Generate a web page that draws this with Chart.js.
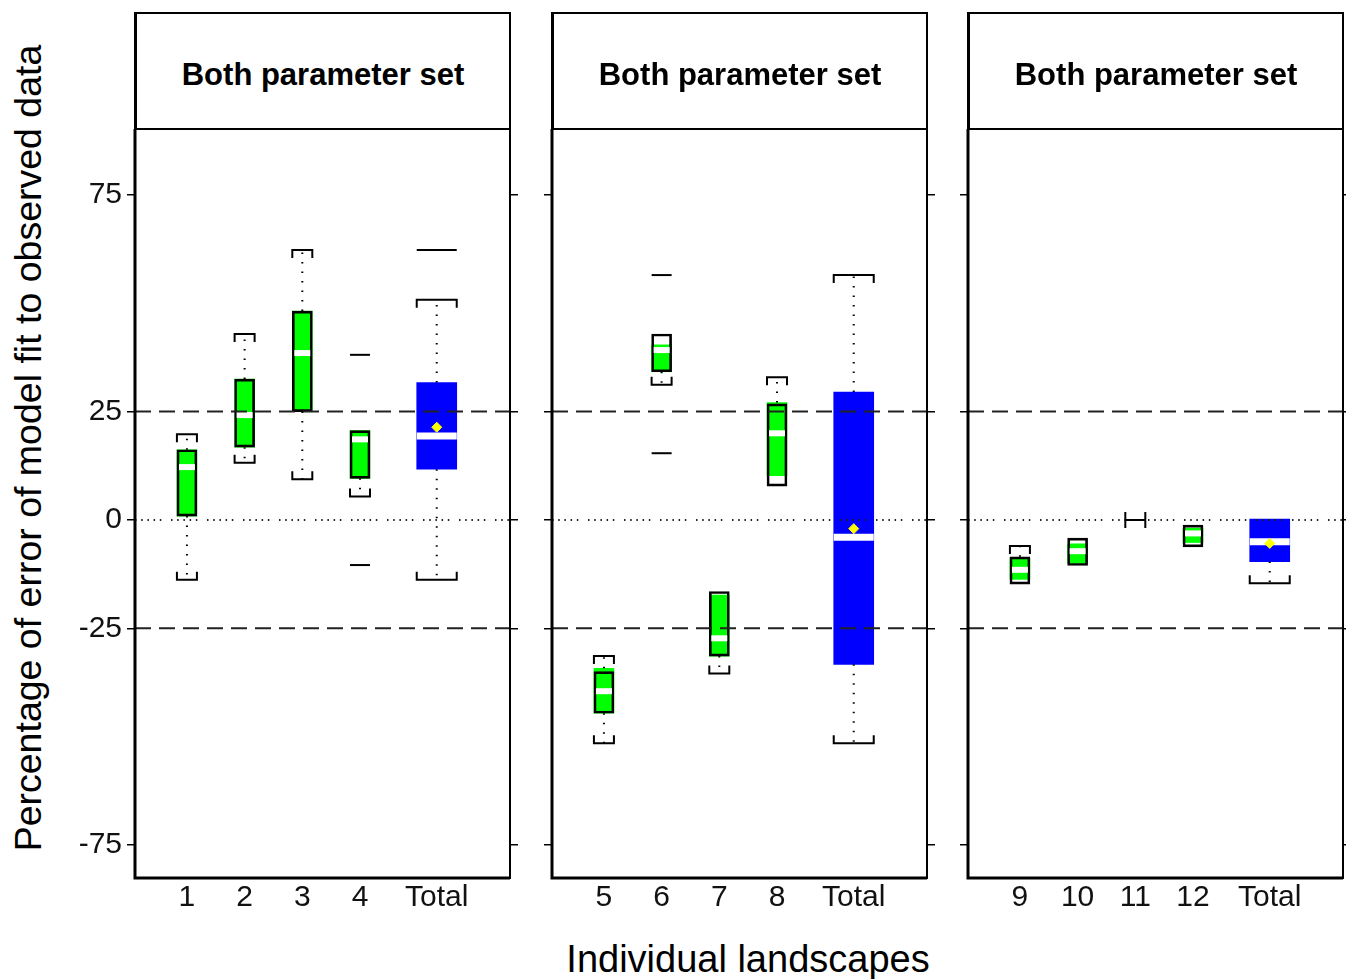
<!DOCTYPE html>
<html>
<head>
<meta charset="utf-8">
<script src="https://cdn.jsdelivr.net/npm/chart.js@4"></script>
<style>
  body { margin: 0; background: #fff; }
  #wrap { position: relative; width: 1346px; height: 979px; overflow: hidden; background: #fff; }
  #wrap canvas { position: absolute; left: 0; top: 0; }
  .strip {
    position: absolute; top: 12px; height: 118px; box-sizing: border-box; padding-top: 6px;
    border: 2px solid #000; border-left-width: 3px; border-bottom: none;
    display: flex; align-items: center; justify-content: center;
    font: bold 31px "Liberation Sans", Arial, sans-serif; color: #000;
  }
  #ytitle {
    position: absolute; left: 28px; top: 448px; white-space: nowrap;
    transform: translate(-50%, -50%) rotate(-90deg);
    font: 37.5px "Liberation Sans", Arial, sans-serif; color: #000;
  }
  #xtitle {
    position: absolute; left: 748px; top: 959px; white-space: nowrap;
    transform: translate(-50%, -50%);
    font: 38px "Liberation Sans", Arial, sans-serif; color: #000;
  }
</style>
</head>
<body>
<div id="wrap">
  <div id="ytitle">Percentage of error of model fit to observed data</div>
  <div id="xtitle">Individual landscapes</div>
</div>
<script>
// tick labels and positions
const stripTitle = "Both parameter set";
const panelLabels = [
    ["1", "2", "3", "4", "Total"],
    ["5", "6", "7", "8", "Total"],
    ["9", "10", "11", "12", "Total"]
];
const xPos = [1, 2, 3, 4, 5.33];
const yTicks = [-75, -25, 0, 25, 75];
const refDashed = [25, -25];
const refDotted = [0];

// coloured part of each box (green, blue for Total)
const fillLow  = [[0.9, 16.8, 25.0, 9.6, 11.7], [-44.6, 34.2, -31.4, 10.2, -33.3], [-13.7, -10.0, 0, -5.2, -9.6]];
const fillHigh = [[16.2, 32.5, 48.2, 20.6, 31.7], [-34.2, 40.4, -17.3, 27.1, 29.5], [-8.8, -5.5, 0, -1.9, 0.2]];
// black outline of the boxes (none for Total)
const boxLow  = [[0.9, 16.8, 25.0, 9.6, null], [-44.6, 34.2, -31.4, 7.8, null], [-14.8, -10.5, 0, -6.2, null]];
const boxHigh = [[16.2, 32.5, 48.2, 20.6, null], [-35.0, 42.9, -16.5, 26.8, null], [-8.5, -4.2, 0, -1.2, null]];
const medians = [[12.2, 24.2, 38.5, 18.6, 19.4], [-39.5, 39.2, -27.3, 20.0, -4.0], [-11.5, -7.2, null, -3.1, -5.0]];
const means   = [[null, null, null, null, 21.4], [null, null, null, null, -2.0], [null, null, null, null, -5.4]];
const whiskerLow  = [[-13.8, 13.2, 9.4, 5.4, -13.8], [-51.5, 31.2, -35.4, null, -51.5], [null, null, null, null, -14.6]];
const whiskerHigh = [[19.8, 42.9, 62.3, null, 50.8], [-31.4, null, null, 32.9, 56.5], [-6.0, null, null, null, null]];
const outliers = [
    [[], [], [], [38.1, -10.4], [62.3]],
    [[], [56.5, 15.4], [], [], []],
    [[], [], [], [], []]
];

// layout (canvases are wider than the page, the page clips them)
const CANVAS_W = 1420;
const panelLeft = [135, 552, 968];
const panelWidth = 375;
const Y_MIN = -82.6, Y_MAX = 90.2;
const X_MIN = 0.1, X_MAX = 6.6;
const X_PX = panelWidth / (X_MAX - X_MIN);
const Y_PX = (878 - 129) / (Y_MAX - Y_MIN);
const GREEN_W = 20, BLUE_W = 40, CAP_TICK = 8 / Y_PX;

const tickFont = { family: "'Liberation Sans', Arial, sans-serif", size: 30 };

const framePlugin = {
    id: 'frame',
    afterDraw(chart) {
        const { ctx, chartArea: a } = chart;
        ctx.save();
        ctx.strokeStyle = '#000';
        ctx.lineWidth = 2;
        ctx.strokeRect(a.left, a.top, a.right - a.left, a.bottom - a.top);
        ctx.lineWidth = 3;
        ctx.beginPath();
        ctx.moveTo(a.left, a.top);
        ctx.lineTo(a.left, a.bottom);
        ctx.lineTo(a.right, a.bottom);
        ctx.stroke();
        ctx.restore();
    }
};

function isTotal(p, i) {
    return panelLabels[p][i] === "Total";
}

function halfWidth(p, i) {
    return (isTotal(p, i) ? BLUE_W : GREEN_W) / 2 / X_PX;
}

function buildDatasets(p) {
    const green = [], blue = [], outline = [], medG = [], medB = [], meanPts = [];
    const outG = [], outB = [], whisk = [], caps = [];
    const gap = { x: null, y: null };

    for (let i = 0; i < xPos.length; i++) {
        const x = xPos[i];
        const h = halfWidth(p, i);
        if (fillLow[p][i] !== fillHigh[p][i]) {
            (isTotal(p, i) ? blue : green).push({ x: x, y: [fillLow[p][i], fillHigh[p][i]] });
        }
        if (boxLow[p][i] != null) {
            if (boxLow[p][i] === boxHigh[p][i]) {
                // tied box: draw as a small "H"
                const v = boxLow[p][i];
                caps.push({ x: x - h, y: v + CAP_TICK }, { x: x - h, y: v - CAP_TICK }, gap,
                          { x: x - h, y: v }, { x: x + h, y: v }, gap,
                          { x: x + h, y: v + CAP_TICK }, { x: x + h, y: v - CAP_TICK }, gap);
            } else {
                outline.push({ x: x, y: [boxLow[p][i], boxHigh[p][i]] });
            }
        }
        if (medians[p][i] != null) {
            (isTotal(p, i) ? medB : medG).push({ x: x, y: medians[p][i] });
        }
        if (means[p][i] != null) meanPts.push({ x: x, y: means[p][i] });
        outliers[p][i].forEach(v => (isTotal(p, i) ? outB : outG).push({ x: x, y: v }));

        const top = Math.max(fillHigh[p][i], boxHigh[p][i] ?? -Infinity);
        const bottom = Math.min(fillLow[p][i], boxLow[p][i] ?? Infinity);
        if (whiskerHigh[p][i] != null) {
            const c = whiskerHigh[p][i];
            whisk.push({ x: x, y: top }, { x: x, y: c }, gap);
            caps.push({ x: x - h, y: c - CAP_TICK }, { x: x - h, y: c }, { x: x + h, y: c }, { x: x + h, y: c - CAP_TICK }, gap);
        }
        if (whiskerLow[p][i] != null) {
            const c = whiskerLow[p][i];
            whisk.push({ x: x, y: bottom }, { x: x, y: c }, gap);
            caps.push({ x: x - h, y: c + CAP_TICK }, { x: x - h, y: c }, { x: x + h, y: c }, { x: x + h, y: c + CAP_TICK }, gap);
        }
    }

    const lineBase = { type: 'line', pointRadius: 0, spanGaps: false, fill: false, yAxisID: 'y' };
    const pointBase = { type: 'line', showLine: false, yAxisID: 'y' };

    const datasets = [
        { ...pointBase, order: 0, data: meanPts, pointStyle: 'rectRot', pointRadius: 5,
          pointBackgroundColor: '#ffff00', pointBorderColor: '#ffff00', pointBorderWidth: 1 },
        { ...pointBase, order: 1, data: outG, pointStyle: 'line', pointRadius: 10,
          pointBorderColor: '#000', pointBorderWidth: 2 },
        { ...pointBase, order: 1, data: outB, pointStyle: 'line', pointRadius: 20,
          pointBorderColor: '#000', pointBorderWidth: 2 },
        { ...lineBase, order: 2, data: caps, borderColor: '#000', borderWidth: 2 },
        { ...lineBase, order: 3, data: whisk, borderColor: '#000', borderWidth: 2, borderDash: [1.5, 8] }
    ];
    refDashed.forEach(v => datasets.push({ ...lineBase, order: 4, borderColor: '#222', borderWidth: 2,
        borderDash: [16, 8], data: [{ x: X_MIN, y: v }, { x: X_MAX, y: v }] }));
    refDotted.forEach(v => datasets.push({ ...lineBase, order: 4, borderColor: '#222', borderWidth: 2,
        borderDash: [1.5, 4.7, 1.5, 4.7, 1.5, 4.7, 1.5, 4.7, 1.5, 9.7],
        data: [{ x: X_MIN, y: v }, { x: X_MAX, y: v }] }));
    datasets.push(
        { ...pointBase, order: 5, data: medG, pointStyle: 'line', pointRadius: 8,
          pointBorderColor: '#ffffff', pointBorderWidth: 6 },
        { ...pointBase, order: 5, data: medB, pointStyle: 'line', pointRadius: 20,
          pointBorderColor: '#ffffff', pointBorderWidth: 7 },
        { type: 'bar', order: 6, data: outline, grouped: false, barThickness: GREEN_W,
          backgroundColor: 'rgba(0,0,0,0)', borderColor: '#000', borderWidth: 2, borderSkipped: false, yAxisID: 'y' },
        { type: 'bar', order: 7, data: green, grouped: false, barThickness: GREEN_W,
          backgroundColor: '#00ff00', borderWidth: 0, yAxisID: 'y' },
        { type: 'bar', order: 7, data: blue, grouped: false, barThickness: BLUE_W,
          backgroundColor: '#0000ff', borderWidth: 0, yAxisID: 'y' }
    );
    return datasets;
}

function yScale(position, showLabels, width) {
    return {
        type: 'linear', position: position, min: Y_MIN, max: Y_MAX,
        border: { display: false },
        grid: { drawOnChartArea: false, drawTicks: true, tickLength: 8, color: '#000', lineWidth: 1.5 },
        afterBuildTicks: s => { s.ticks = yTicks.map(v => ({ value: v })); },
        afterFit: s => { s.width = width; s.paddingTop = 0; s.paddingBottom = 0; },
        ticks: {
            autoSkip: false, padding: 5, color: '#111', font: tickFont,
            callback: v => showLabels ? String(v) : ''
        }
    };
}

const wrap = document.getElementById('wrap');

for (let p = 0; p < panelLabels.length; p++) {
    const panelRight = panelLeft[p] + panelWidth;

    const strip = document.createElement('div');
    strip.className = 'strip';
    strip.style.left = (panelLeft[p] - 1) + 'px';
    strip.style.width = (panelWidth + 2) + 'px';
    strip.textContent = stripTitle;
    wrap.appendChild(strip);

    const canvas = document.createElement('canvas');
    canvas.width = CANVAS_W;
    canvas.height = 979;
    wrap.appendChild(canvas);

    new Chart(canvas, {
        type: 'bar',
        data: { datasets: buildDatasets(p) },
        options: {
            responsive: false,
            animation: false,
            layout: {
                padding: { left: 0, right: CANVAS_W - panelRight - 8, top: 129, bottom: 51 }
            },
            plugins: { legend: { display: false }, tooltip: { enabled: false } },
            scales: {
                x: {
                    type: 'linear', min: X_MIN, max: X_MAX, offset: false,
                    grid: { display: false }, border: { display: false },
                    afterBuildTicks: s => { s.ticks = xPos.map(v => ({ value: v })); },
                    afterFit: s => { s.height = 50; s.paddingLeft = 0; s.paddingRight = 0; },
                    ticks: {
                        autoSkip: false, maxRotation: 0, padding: -6, color: '#111', font: tickFont,
                        callback: (v, i) => panelLabels[p][i]
                    }
                },
                y: yScale('left', p === 0, panelLeft[p]),
                y2: yScale('right', false, 8)
            }
        },
        plugins: [framePlugin]
    });
}
</script>
</body>
</html>
